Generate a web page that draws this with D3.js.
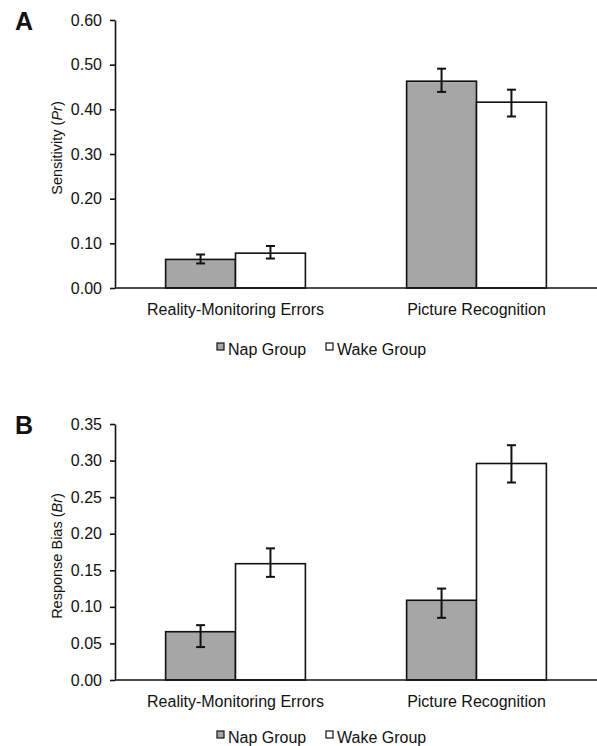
<!DOCTYPE html>
<html>
<head>
    <meta charset="UTF-8">
    <title>Nap vs Wake</title>
    <script src="https://cdn.jsdelivr.net/npm/d3@7"></script>
    <style>
        body { margin: 0; background: #fff; }
        svg text { font-family: "Liberation Sans", Arial, Helvetica, sans-serif; fill: #111; }
    </style>
</head>
<body>
<svg id="chart"></svg>
<script>
    // categories + groups
    var categories = ["Reality-Monitoring Errors", "Picture Recognition"];
    var groups = ["Nap Group", "Wake Group"];
    var groupFill = ["#a6a6a6", "#ffffff"];

    // panel A: sensitivity (Pr)
    var prNap = [0.064, 0.463];
    var prWake = [0.078, 0.416];
    var prNapLo = [0.055, 0.439], prNapHi = [0.075, 0.491];
    var prWakeLo = [0.066, 0.384], prWakeHi = [0.094, 0.444];
    var prTicks = [0, 0.1, 0.2, 0.3, 0.4, 0.5, 0.6];

    // panel B: response bias (Br)
    var brNap = [0.066, 0.109];
    var brWake = [0.159, 0.296];
    var brNapLo = [0.045, 0.085], brNapHi = [0.075, 0.125];
    var brWakeLo = [0.141, 0.270], brWakeHi = [0.180, 0.321];
    var brTicks = [0, 0.05, 0.1, 0.15, 0.2, 0.25, 0.3, 0.35];

    var W = 597, H = 746;
    var svg = d3.select("#chart").attr("width", W).attr("height", H);

    function panel(opt) {
        var g = svg.append("g");
        var y = d3.scaleLinear().domain([0, opt.max]).range([opt.bottom, opt.top]);
        var x0 = d3.scaleBand().domain(categories).range([115, 597])
                .paddingInner(0.42).paddingOuter(0.21);
        var x1 = d3.scaleBand().domain(groups).range([0, x0.bandwidth()]);

        var rows = [];
        categories.forEach(function (c, i) {
            rows.push({cat: c, grp: groups[0], v: opt.nap[i], lo: opt.napLo[i], hi: opt.napHi[i], fill: groupFill[0]});
            rows.push({cat: c, grp: groups[1], v: opt.wake[i], lo: opt.wakeLo[i], hi: opt.wakeHi[i], fill: groupFill[1]});
        });

        g.selectAll("rect.bar").data(rows).enter().append("rect")
                .attr("class", "bar")
                .attr("x", function (d) { return x0(d.cat) + x1(d.grp); })
                .attr("width", x1.bandwidth())
                .attr("y", function (d) { return y(d.v); })
                .attr("height", function (d) { return y(0) - y(d.v); })
                .attr("fill", function (d) { return d.fill; })
                .attr("stroke", "#111")
                .attr("stroke-width", 1.6);

        // error bars
        var eb = g.selectAll("g.err").data(rows).enter().append("g")
                .attr("stroke", "#111").attr("stroke-width", 2);
        function cx(d) { return x0(d.cat) + x1(d.grp) + x1.bandwidth() / 2; }
        eb.append("line")
                .attr("x1", cx).attr("x2", cx)
                .attr("y1", function (d) { return y(d.hi); })
                .attr("y2", function (d) { return y(d.lo); });
        eb.append("line")
                .attr("x1", function (d) { return cx(d) - 4.5; })
                .attr("x2", function (d) { return cx(d) + 4.5; })
                .attr("y1", function (d) { return y(d.hi); })
                .attr("y2", function (d) { return y(d.hi); });
        eb.append("line")
                .attr("x1", function (d) { return cx(d) - 4.5; })
                .attr("x2", function (d) { return cx(d) + 4.5; })
                .attr("y1", function (d) { return y(d.lo); })
                .attr("y2", function (d) { return y(d.lo); });

        // y axis
        var ya = g.append("g").attr("transform", "translate(115,0)")
                .call(d3.axisLeft(y).tickValues(opt.ticks).tickFormat(d3.format(".2f"))
                        .tickSize(5).tickPadding(8).tickSizeOuter(0));
        ya.select(".domain").attr("stroke", "#111").attr("stroke-width", 1.6);
        ya.selectAll(".tick line").attr("stroke", "#111").attr("stroke-width", 1.6);
        ya.selectAll(".tick text").attr("font-size", 16).attr("font-family", null).style("fill", "#111");

        // x axis baseline
        g.append("line").attr("x1", 115).attr("x2", 597)
                .attr("y1", y(0)).attr("y2", y(0))
                .attr("stroke", "#111").attr("stroke-width", 1.6);

        g.selectAll("text.cat").data(categories).enter().append("text")
                .attr("x", function (c) { return x0(c) + x0.bandwidth() / 2; })
                .attr("y", y(0) + 27)
                .attr("text-anchor", "middle")
                .attr("font-size", 16)
                .text(function (c) { return c; });

        // y title
        var t = g.append("text")
                .attr("transform", "translate(62," + opt.titleY + ") rotate(-90)")
                .attr("text-anchor", "middle")
                .attr("font-size", 14.5);
        t.append("tspan").text(opt.title + " (");
        t.append("tspan").attr("font-style", "italic").text(opt.sym);
        t.append("tspan").text(")");

        // panel letter
        g.append("text").attr("x", 15).attr("y", opt.top + 10)
                .attr("font-size", 25).attr("font-weight", "bold").text(opt.letter);

        // legend
        var lg = g.selectAll("g.leg").data(groups).enter().append("g")
                .attr("transform", function (d, i) { return "translate(" + (217 + i * 109) + "," + opt.legY + ")"; });
        lg.append("rect").attr("x", 0).attr("y", -12).attr("width", 7).attr("height", 7)
                .attr("fill", function (d, i) { return groupFill[i]; })
                .attr("stroke", "#111").attr("stroke-width", 1.2);
        lg.append("text").attr("x", 11).attr("y", 0).attr("font-size", 16).text(function (d) { return d; });
    }

    panel({letter: "A", top: 20, bottom: 288, max: 0.6, ticks: prTicks,
        nap: prNap, wake: prWake, napLo: prNapLo, napHi: prNapHi, wakeLo: prWakeLo, wakeHi: prWakeHi,
        title: "Sensitivity", sym: "Pr", titleY: 148, legY: 355});

    panel({letter: "B", top: 424, bottom: 680, max: 0.35, ticks: brTicks,
        nap: brNap, wake: brWake, napLo: brNapLo, napHi: brNapHi, wakeLo: brWakeLo, wakeHi: brWakeHi,
        title: "Response Bias", sym: "Br", titleY: 556, legY: 743});
</script>
</body>
</html>
